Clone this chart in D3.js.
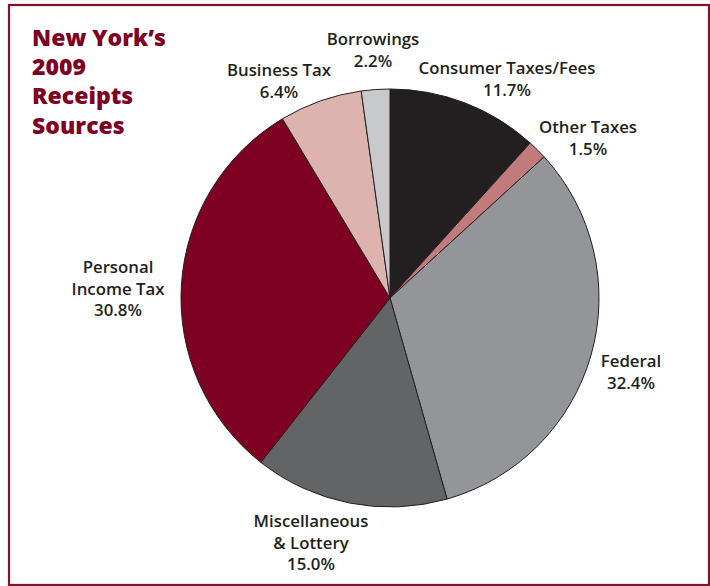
<!DOCTYPE html>
<html>
<head>
<meta charset="utf-8">
<script src="https://cdn.jsdelivr.net/npm/d3@7"></script>
<style>
  html, body { margin: 0; padding: 0; background: #ffffff; }
  svg { display: block; }
  text { font-family: "Open Sans", "Lato", sans-serif; }
</style>
</head>
<body>
<svg id="chart" width="710" height="586"></svg>
<script>
// Receipt sources, clockwise from 12 o'clock
const categories = ["Consumer Taxes/Fees", "Other Taxes", "Federal", "Miscellaneous & Lottery",
                    "Personal Income Tax", "Business Tax", "Borrowings"];
const shares = [11.7, 1.5, 32.4, 15.0, 30.8, 6.4, 2.2];
const sliceColors = ["#231f20", "#c17b7c", "#939598", "#636466", "#7e0023", "#dcb3ae", "#c8c9cb"];
const labelLines = [
  ["Consumer Taxes/Fees"],
  ["Other Taxes"],
  ["Federal"],
  ["Miscellaneous", "& Lottery"],
  ["Personal", "Income Tax"],
  ["Business Tax"],
  ["Borrowings"]
];
const titleLines = ["New York\u2019s", "2009", "Receipts", "Sources"];

// Label anchor (centre x, first baseline y) for each slice
const labelAnchor = [
  [507, 74], [588, 133], [631, 367], [311, 527], [118, 273], [279, 76], [373, 45]
];

const svg = d3.select("#chart");
const cx = 390, cy = 298, R = 209;
const lineH = 21.5;

// frame
svg.append("rect")
  .attr("x", 9).attr("y", 5).attr("width", 700).attr("height", 580)
  .attr("fill", "#ffffff").attr("stroke", "#85112e").attr("stroke-width", 2.2);

const data = categories.map((c, i) => ({ name: c, value: shares[i], i }));

const pie = d3.pie().value(d => d.value).sort(null);
const arc = d3.arc().innerRadius(0).outerRadius(R);

const g = svg.append("g").attr("transform", `translate(${cx},${cy})`);
g.selectAll("path")
  .data(pie(data))
  .join("path")
  .attr("d", arc)
  .attr("fill", d => sliceColors[d.data.i])
  .attr("stroke", "#231f20")
  .attr("stroke-width", 1)
  .attr("stroke-linejoin", "round");

// slice labels
const fmt = d3.format(".1f");
data.forEach(d => {
  const [x, y] = labelAnchor[d.i];
  const lines = labelLines[d.i].concat([fmt(d.value) + "%"]);
  const t = svg.append("text")
    .attr("text-anchor", "middle")
    .attr("fill", "#231f20")
    .attr("font-size", 16.8)
    .attr("font-weight", 600);
  lines.forEach((s, k) => {
    t.append("tspan").attr("x", x).attr("y", y + k * lineH).text(s);
  });
});

// title
const title = svg.append("text")
  .attr("fill", "#7e0023")
  .attr("font-size", 23)
  .attr("font-weight", 800);
titleLines.forEach((s, k) => {
  title.append("tspan").attr("x", 32).attr("y", 46 + k * 29.2).text(s);
});
</script>
</body>
</html>
